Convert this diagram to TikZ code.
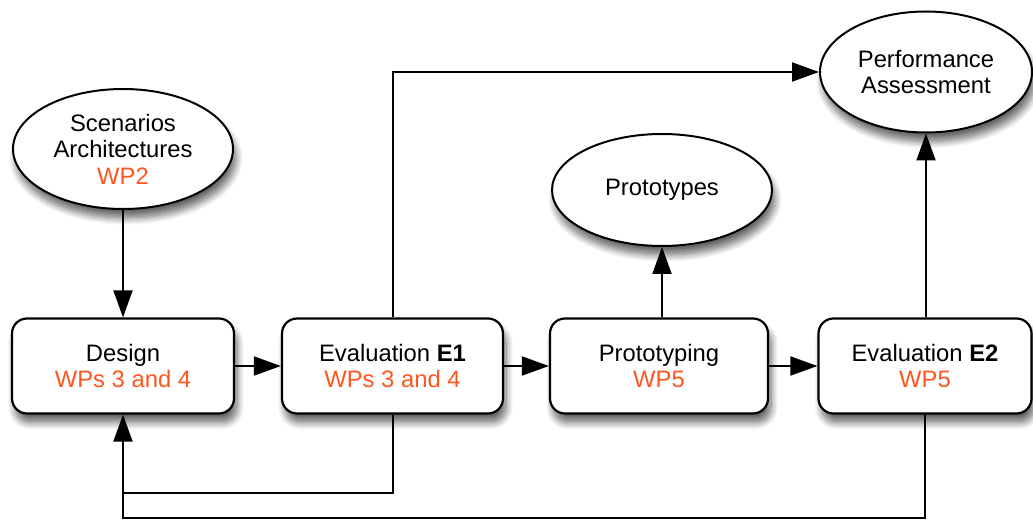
\documentclass[tikz,border=0pt]{standalone}
\usepackage{fontspec}
\setmainfont{Liberation Sans}
\usetikzlibrary{arrows.meta,shapes.geometric,shadows.blur}
\definecolor{wporange}{RGB}{255,85,30}
\tikzset{
  every node/.style={font=\fontsize{23.8}{26.5}\selectfont, align=center},
  stepbox/.style={draw=black, line width=2.2pt, fill=white, rounded corners=15pt,
    minimum height=95pt, inner sep=0pt,
    blur shadow={shadow xshift=3pt, shadow yshift=-9pt, shadow blur steps=10, shadow blur radius=7pt, shadow opacity=60}},
  oval/.style={draw=black, line width=2pt, ellipse, fill=white, inner sep=0pt,
    blur shadow={shadow xshift=3pt, shadow yshift=-9pt, shadow blur steps=10, shadow blur radius=7pt, shadow opacity=60}},
  link/.style={line width=2pt, -{Triangle[length=27pt,width=19pt]}},
  plain/.style={line width=2pt},
}
\begin{document}
\begin{tikzpicture}[x=1pt,y=-1pt]
\useasboundingbox (0,0) rectangle (1033,521);
% boxes
\node[stepbox, minimum width=222pt] (design) at (123,366) {Design\\\textcolor{wporange}{WPs 3 and 4}};
\node[stepbox, minimum width=221pt] (e1) at (392.5,366) {Evaluation \textbf{E1}\\\textcolor{wporange}{WPs 3 and 4}};
\node[stepbox, minimum width=218pt] (proto) at (659,366) {Prototyping\\\textcolor{wporange}{WP5}};
\node[stepbox, minimum width=213pt] (e2) at (925,366) {Evaluation \textbf{E2}\\\textcolor{wporange}{WP5}};
% ellipses
\node[oval, minimum width=220pt, minimum height=120pt] (scen) at (123,149) {Scenarios\\Architectures\\\textcolor{wporange}{WP2}};
\node[oval, minimum width=220pt, minimum height=112pt] (types) at (662,190) {Prototypes};
\node[oval, minimum width=212pt, minimum height=121pt] (perf) at (926,72) {Performance\\Assessment};
% connectors
\draw[link] (scen.south) -- (design.north);
\draw[link] (design.east) -- (e1.west);
\draw[link] (e1.east) -- (proto.west);
\draw[link] (proto.east) -- (e2.west);
\draw[link] (proto.north -| types.south) -- (types.south);
\draw[link] (e2.north -| perf.south) -- (perf.south);
\coordinate (topturn) at (e1.north |- perf.west);
\draw[link] (e1.north) -- (topturn) -- (perf.west);
\coordinate (fb1) at (e1.south |- 0,493);
\coordinate (fb1b) at (design.south |- 0,493);
\draw[plain] (e1.south) -- (fb1) -- (fb1b);
\coordinate (fb2) at (e2.south |- 0,518);
\coordinate (fb2b) at (design.south |- 0,518);
\draw[link] (e2.south) -- (fb2) -- (fb2b) -- (design.south);
\end{tikzpicture}
\end{document}
